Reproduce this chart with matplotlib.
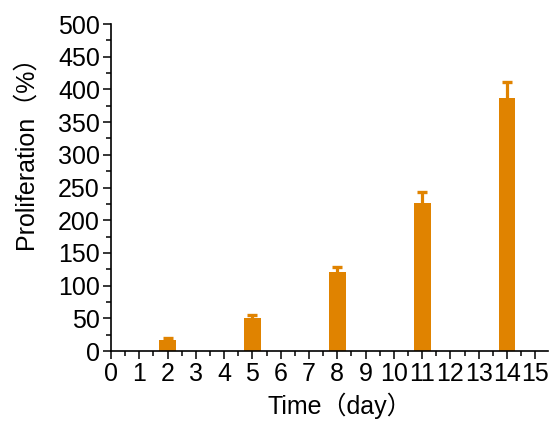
import numpy as np
import matplotlib
matplotlib.use("Agg")
import matplotlib.pyplot as plt
from matplotlib.ticker import MultipleLocator

plt.rcParams['font.family'] = ['Liberation Sans', 'Noto Sans CJK SC', 'DejaVu Sans']

# data
days = [2, 5, 8, 11, 14]
proliferation = [17, 50, 121, 226, 387]
err_upper = [3, 5, 7, 17, 24]

bar_color = '#E08300'

fig = plt.figure(figsize=(5.53, 4.25), dpi=100)
ax = fig.add_axes([0.2007, 0.174, 0.7903, 0.7695])

ax.bar(days, proliferation, width=0.6, color=bar_color, zorder=2)
eb = ax.errorbar(days, proliferation, yerr=[np.zeros(len(days)), err_upper],
                 fmt='none', ecolor=bar_color, elinewidth=2.3, capsize=3.8,
                 capthick=2.4, zorder=3)
# only the upper cap is drawn in the original
eb[1][0].set_visible(False)
eb[1][1].set_solid_capstyle('round')

ax.set_xlim(0, 15.45)
ax.set_ylim(0, 500)
ax.xaxis.set_major_locator(MultipleLocator(1))
ax.xaxis.set_minor_locator(MultipleLocator(0.5))
ax.yaxis.set_major_locator(MultipleLocator(50))
ax.yaxis.set_minor_locator(MultipleLocator(25))

for s in ['top', 'right']:
    ax.spines[s].set_visible(False)
for s in ['left', 'bottom']:
    ax.spines[s].set_linewidth(1.2)

ax.tick_params(which='major', direction='out', length=6, width=1.1,
               labelsize=18, pad=2)
ax.tick_params(which='minor', direction='out', length=3.5, width=1.1)

ax.set_xlabel('Time（day）', fontsize=18)
ax.set_ylabel('Proliferation（%）', fontsize=18)
ax.xaxis.set_label_coords(0.524, -0.127)
ax.yaxis.set_label_coords(-0.167, 0.627)

fig.savefig('out.png', dpi=100)
